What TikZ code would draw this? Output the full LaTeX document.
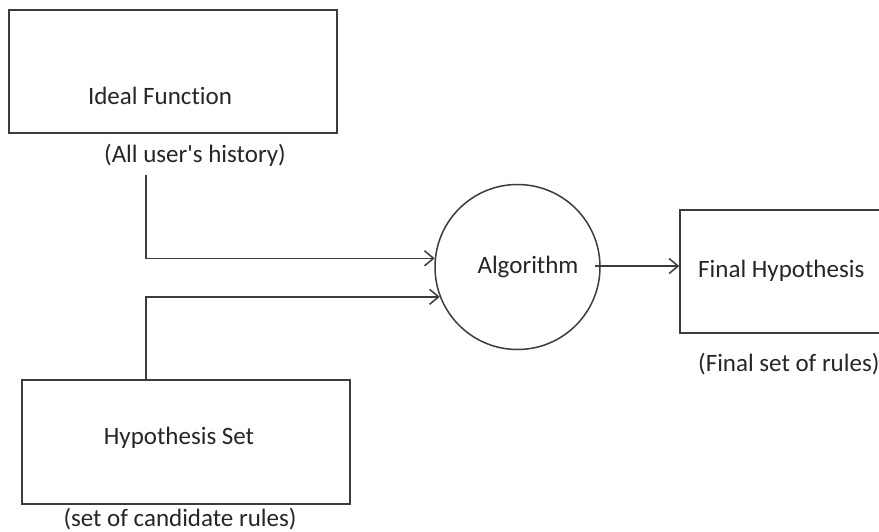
\documentclass[tikz,border=0pt]{standalone}
\usepackage{fontspec}
\setmainfont{Carlito}[Ligatures={NoCommon}]
\usetikzlibrary{arrows.meta}
\begin{document}
\begin{tikzpicture}[x=1pt,y=-1pt,
  box/.style={draw=linec, line width=1.5pt, rectangle, inner sep=0pt},
  lbl/.style={font=\fontsize{25}{30}\selectfont, inner sep=0pt, text=black!85},
  arr/.style={draw=linec, line width=1.5pt, -{Straight Barb[length=9pt,width=15pt,line width=1.5pt]}}]
\definecolor{linec}{HTML}{3C3C3C}
\clip (0,0) rectangle (879,531);
\fill[white] (0,0) rectangle (879,531);
% boxes
\node[box, minimum width=328pt, minimum height=123pt] (ideal) at (173,71.5) {};
\node[box, minimum width=328pt, minimum height=124pt] (hyp) at (186,442) {};
\node[box, minimum width=260pt, minimum height=123pt] (final) at (810,271.5) {};
\node[draw=linec, line width=1.5pt, circle, minimum size=165pt, inner sep=0pt] (algo) at (517.5,267) {};
% texts
\node[lbl] (idealtxt) at (160,96) {Ideal Function};
\node[lbl] (allhist) at (195,155) {(All user\textquotesingle s history)};
\node[lbl] (hyptxt) at (179,438) {Hypothesis Set};
\node[lbl] (cand) at (180,519) {(set of candidate rules)};
\node[lbl] (algotxt) at (528,267) {Algorithm};
\node[lbl, anchor=west] (finaltxt) at (698,271) {Final Hypothesis};
\node[lbl, anchor=west] (finalrules) at (698,364) {(Final set of rules)};
% connectors
\coordinate (s1) at (146,175);
\coordinate (s2) at (146,380);
\coordinate (s3) at (595,266);
\draw[arr] (s1) |- (algo.174);
\draw[arr] (s2) |- (algo.201);
\draw[arr] (s3) -- (s3 -| final.west);
\end{tikzpicture}
\end{document}
